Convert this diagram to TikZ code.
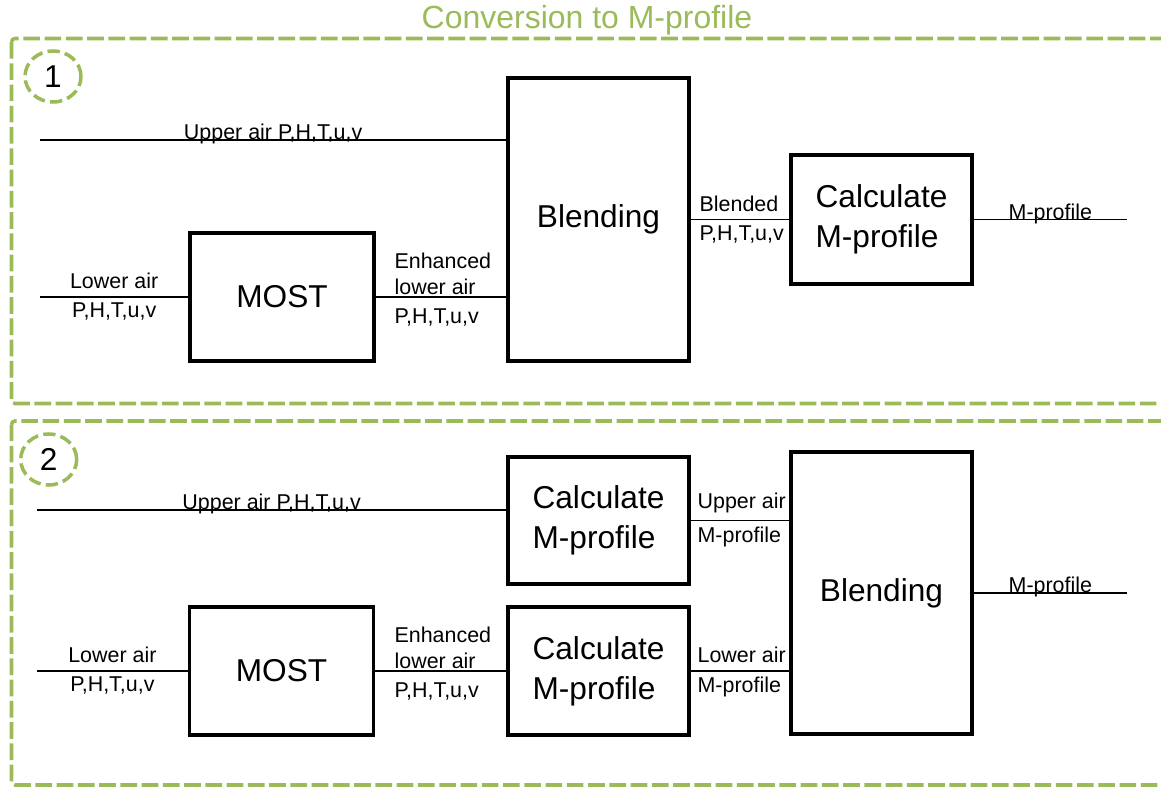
\documentclass[tikz,border=0pt]{standalone}
\usepackage{fontspec}
\setmainfont{Liberation Sans}
\usetikzlibrary{shapes.geometric}
\definecolor{frgreen}{RGB}{155,187,89}
\tikzset{
    blk/.style={draw,line width=2pt,align=left,inner sep=0pt,font=\fontsize{18}{22.7}\selectfont},
    frame/.style={draw=frgreen,line width=2pt,dash pattern=on 9.5pt off 2.6pt,rounded corners=2pt},
    numring/.style={draw=frgreen,line width=2pt,dash pattern=on 7pt off 3pt,ellipse,inner sep=0pt,
        minimum width=1.12cm,minimum height=1.02cm,font=\fontsize{18}{20}\selectfont},
    sig/.style={line width=1pt},
    lab/.style={font=\fontsize{12.2}{14.7}\selectfont,align=left},
    labtop/.style={lab,midway,above,inner sep=4pt},
    labbot/.style={lab,midway,below,inner sep=3pt},
    labon/.style={lab,midway,anchor=base,inner sep=0pt},
    lefttop/.style={lab,pos=0,anchor=south west,inner xsep=0pt,inner ysep=4pt,xshift=#1},
    leftbot/.style={lab,pos=0,anchor=north west,inner xsep=0pt,inner ysep=3pt,xshift=#1},
}
\begin{document}
\begin{tikzpicture}[x=0.02cm,y=-0.02cm]
    \useasboundingbox (0,0) rectangle (1161,787);
    \node[font=\fontsize{18.2}{20}\selectfont,text=frgreen,anchor=base] (title) at (587,28.5) {Conversion to M-profile};
    % panel 1
    \draw[frame] (11.5,38.5) rectangle (1185,403.5);
    \node[numring] (one) at (53,76.5) {1};
    \node[blk,minimum width=3.62cm,minimum height=5.66cm] (blendA) at (598.5,219.5) {Blending};
    \node[blk,minimum width=3.68cm,minimum height=2.56cm] (mostA) at (282,297) {MOST};
    \node[blk,minimum width=3.62cm,minimum height=2.58cm] (calcA) at (881.5,219.5) {Calculate\\M-profile};
    \coordinate (upA) at (40,140);
    \coordinate (loA) at (40,297);
    \coordinate (outA) at (1127,219.5);
    \draw[sig] (upA) -- (upA -| blendA.west) node[labon]{Upper air P,H,T,u,v};
    \draw[sig] (loA) -- (mostA.west) node[labtop]{Lower air} node[labbot]{P,H,T,u,v};
    \draw[sig] (mostA.east) -- (mostA.east -| blendA.west)
        node[lefttop=0.36cm,inner ysep=1pt]{Enhanced\\lower air} node[leftbot=0.36cm,inner ysep=6pt]{P,H,T,u,v};
    \draw[sig] (blendA.east |- calcA.west) -- (calcA.west) node[lefttop=0.16cm]{Blended} node[leftbot=0.16cm]{P,H,T,u,v};
    \draw[sig] (calcA.east) -- (outA) node[labon]{M-profile};
    % panel 2
    \draw[frame] (11.5,421) rectangle (1185,785);
    \node[numring] (two) at (48.7,459.5) {2};
    \node[blk,minimum width=3.62cm,minimum height=2.54cm] (calcUB) at (598.5,520.5) {Calculate\\M-profile};
    \node[blk,minimum width=3.62cm,minimum height=2.56cm] (calcLB) at (598.5,671) {Calculate\\M-profile};
    \node[blk,minimum width=3.68cm,minimum height=2.56cm] (mostB) at (281.5,671) {MOST};
    \node[blk,minimum width=3.62cm,minimum height=5.64cm] (blendB) at (881.5,593) {Blending};
    \coordinate (upB) at (37,510);
    \coordinate (loB) at (37,671);
    \coordinate (outB) at (1127,593);
    \draw[sig] (upB) -- (upB -| calcUB.west) node[labon]{Upper air P,H,T,u,v};
    \draw[sig] (loB) -- (mostB.west) node[labtop]{Lower air} node[labbot]{P,H,T,u,v};
    \draw[sig] (mostB.east) -- (calcLB.west)
        node[lefttop=0.37cm,inner ysep=1pt]{Enhanced\\lower air} node[leftbot=0.37cm,inner ysep=6pt]{P,H,T,u,v};
    \draw[sig] (calcUB.east) -- (calcUB.east -| blendB.west) node[lefttop=0.12cm]{Upper air} node[leftbot=0.12cm]{M-profile};
    \draw[sig] (calcLB.east) -- (calcLB.east -| blendB.west) node[lefttop=0.12cm]{Lower air} node[leftbot=0.12cm]{M-profile};
    \draw[sig] (blendB.east) -- (outB) node[labon]{M-profile};
\end{tikzpicture}
\end{document}
